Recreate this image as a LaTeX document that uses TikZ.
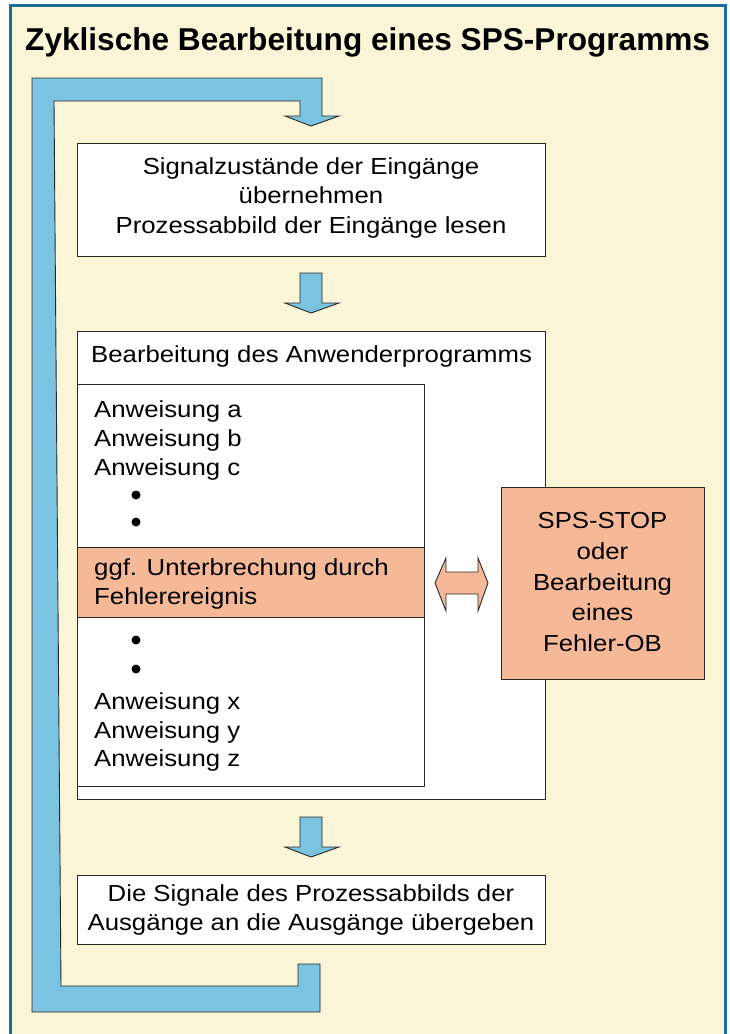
\documentclass[tikz,border=0pt]{standalone}
\usepackage{fontspec}
\setmainfont{Liberation Sans}
\newfontfamily\bodyfont[FakeStretch=1.11]{Liberation Sans}
\definecolor{bgyellow}{RGB}{250,245,215}
\definecolor{frameblue}{RGB}{28,110,152}
\definecolor{skyblue}{RGB}{122,196,225}
\definecolor{salmon}{RGB}{245,185,152}
\definecolor{edge}{RGB}{40,40,40}
\tikzset{
  txt/.style={font=\bodyfont\fontsize{23.2}{29}\selectfont, inner sep=0, anchor=base},
  ltxt/.style={txt, anchor=base west},
  box/.style={draw=edge, line width=1.3, fill=white, inner sep=0, anchor=north west},
  obox/.style={box, fill=salmon},
  blockarrow/.style={draw=edge, line width=0.9, fill=skyblue, line join=miter},
  dblarrow/.style={draw=edge, line width=0.9, fill=salmon, line join=miter},
  dot/.style={circle, fill=black, inner sep=0, minimum size=9}
}
\begin{document}
\begin{tikzpicture}[x=1pt,y=-1pt]
\useasboundingbox (0,0) rectangle (730,1034);
\fill[white] (0,0) rectangle (730,1034);
\fill[bgyellow] (10,5) rectangle (725,1034);
\draw[frameblue, line width=3] (10,1040) -- (10,5) -- (725,5) -- (725,1040);

% title
\node[anchor=base west, inner sep=0, font=\bfseries\fontsize{31.6}{36}\selectfont] (title) at (25,50) {Zyklische Bearbeitung eines SPS-Programms};

% loop arrow
\draw[blockarrow] (320,964) -- (320,1012) -- (32,1012) -- (32,78) -- (322,78) -- (322,116) -- (339,116) -- (311,126) -- (285,116) -- (300,116) -- (300,101) -- (54,101) -- (61,986) -- (298,986) -- (298,964) -- cycle;

% boxes
\node[box, minimum width=468, minimum height=113] (b1) at (77,143) {};
\node[box, minimum width=468, minimum height=468] (b2) at (77,331) {};
\node[box, minimum width=347, minimum height=402] (b2in) at (77,384) {};
\node[obox, minimum width=347, minimum height=70] (band) at (77,547) {};
\node[obox, minimum width=203, minimum height=192] (stop) at (501,487) {};
\node[box, minimum width=468, minimum height=69] (b4) at (77,875) {};

% down arrows
\draw[blockarrow] (300,273) -- (322,273) -- (322,303) -- (339,303) -- (311,313) -- (285,303) -- (300,303) -- cycle;
\draw[blockarrow] (300,817) -- (322,817) -- (322,847) -- (339,847) -- (311,857) -- (285,847) -- (300,847) -- cycle;

% double arrow
\draw[dblarrow] (435,583) -- (446,558) -- (446,572) -- (478,572) -- (478,558) -- (488,583) -- (478,611) -- (478,594) -- (446,594) -- (446,611) -- cycle;

% texts box 1
\node[txt] (t1a) at (311,174) {Signalzustände der Eingänge};
\node[txt] (t1b) at (311,203.5) {übernehmen};
\node[txt] (t1c) at (311,233) {Prozessabbild der Eingänge lesen};

% box 2
\node[ltxt] (t2h) at (91,362) {Bearbeitung des Anwenderprogramms};
\node[ltxt] (ta) at (94,417) {Anweisung a};
\node[ltxt] (tb) at (94,446) {Anweisung b};
\node[ltxt] (tc) at (94,475) {Anweisung c};
\node[dot] (d1) at (136,495) {};
\node[dot] (d2) at (136,522) {};
\node[ltxt] (tu1) at (94,575) {ggf. Unterbrechung durch};
\node[ltxt] (tu2) at (94,604) {Fehlerereignis};
\node[dot] (d3) at (136,640) {};
\node[dot] (d4) at (136,669) {};
\node[ltxt] (tx) at (94,709) {Anweisung x};
\node[ltxt] (ty) at (94,738) {Anweisung y};
\node[ltxt] (tz) at (94,766) {Anweisung z};

% right box
\node[txt] (s1) at (602.5,528) {SPS-STOP};
\node[txt] (s2) at (602.5,559) {oder};
\node[txt] (s3) at (602.5,590) {Bearbeitung};
\node[txt] (s4) at (602.5,620) {eines};
\node[txt] (s5) at (602.5,651) {Fehler-OB};

% box 4
\node[txt] (t4a) at (311,901) {Die Signale des Prozessabbilds der};
\node[txt] (t4b) at (311,930) {Ausgänge an die Ausgänge übergeben};
\end{tikzpicture}
\end{document}
